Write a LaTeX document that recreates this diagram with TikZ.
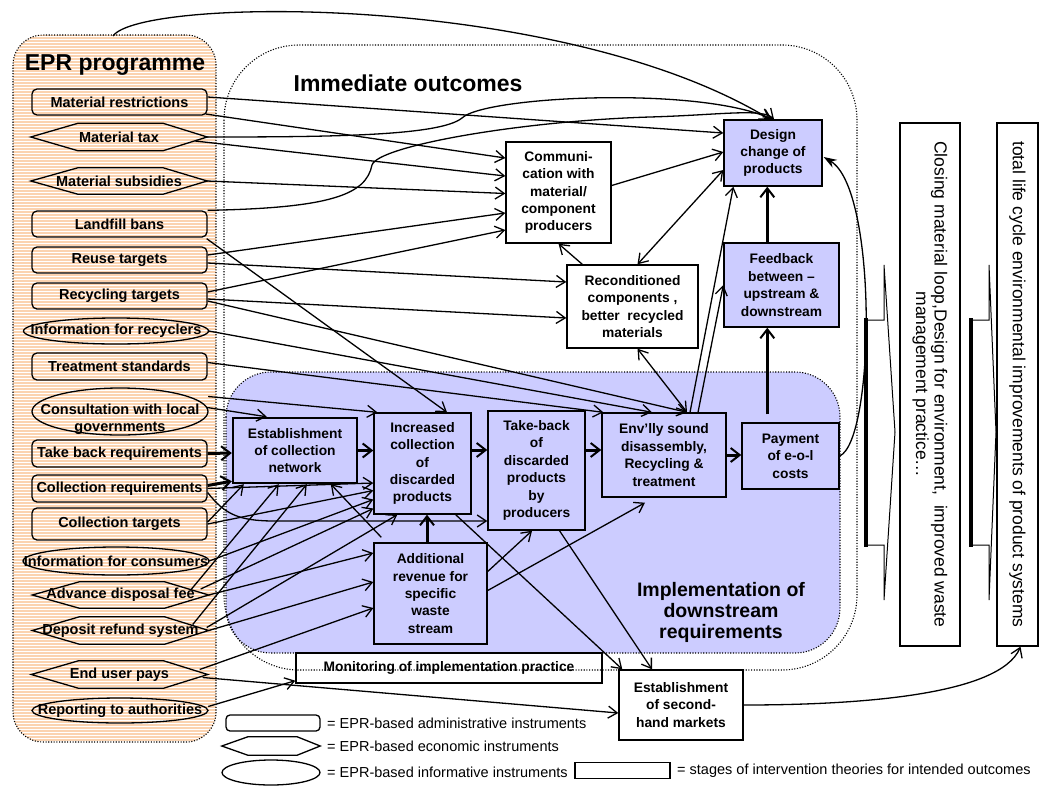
\documentclass[tikz,border=0pt]{standalone}
\usepackage{fontspec}
\setmainfont{Liberation Sans}
\usetikzlibrary{arrows.meta,calc}
\definecolor{blu}{RGB}{204,204,255}
\definecolor{peach}{RGB}{251,211,176}
\newcommand\myfi{\fontsize{14.5}{17}\selectfont\bfseries}
\newcommand\myfb{\fontsize{13.8}{17.4}\selectfont\bfseries}
\newcommand\myfl{\fontsize{14.5}{17}\selectfont}
\newcommand\hexp[3]{\draw[lw] (#1.west) -- ($(#1.north west)+(#2,0)$) -- ($(#1.north east)+(-#3,0)$) -- (#1.east) -- ($(#1.south east)+(-#3,0)$) -- ($(#1.south west)+(#2,0)$) -- cycle;}
\newcommand\ellp[3]{\draw[lw] (#1.center) ellipse [x radius=#2pt, y radius=#3pt];}
\begin{document}
\begin{tikzpicture}[x=1pt,y=-1pt,
  lw/.style={line width=1.3pt},
  dotl/.style={line width=1.1pt, dash pattern=on 1.1pt off 1.6pt},
  inst/.style={draw, line width=1.3pt, rounded corners=5pt, minimum width=175pt, minimum height=26pt, inner sep=0pt, font=\myfi},
  ghost/.style={inner sep=0pt, font=\myfi, align=center},
  box/.style={draw, line width=1.4pt, fill=white, inner sep=0pt, align=center, font=\myfb},
  bbox/.style={box, fill=blu},
  conn/.style={line width=1.3pt, -{Straight Barb[length=9pt,width=12pt]}},
  dconn/.style={line width=1.3pt, {Straight Barb[length=9pt,width=12pt]}-{Straight Barb[length=9pt,width=12pt]}},
  tconn/.style={line width=3pt, -{Straight Barb[length=9pt,width=14pt,line width=2pt]}},
  lgt/.style={anchor=west, inner sep=0pt, font=\myfl}
]
\useasboundingbox (0,0) rectangle (1040,787);

% EPR panel (peach with fine white stripes)
\begin{scope}
\clip[rounded corners=30pt] (13,35) rectangle (216,742);
\fill[peach] (13,35) rectangle (216,742);
\foreach \yy in {36,39,...,742} \draw[white, line width=1pt] (13,\yy) -- (216,\yy);
\end{scope}
\draw[dotl, rounded corners=30pt] (13,35) rectangle (216,742);

% implementation region
\draw[dotl, fill=blu, rounded corners=45pt] (226,372) rectangle (840,653);

% block arrows
\draw[line width=1pt, fill=white] (865,320) -- (884,320) -- (884,265) -- (895,432) -- (884,600) -- (884,545) -- (865,545) -- cycle;
\draw[line width=4pt] (866,318) -- (866,547);
\draw[line width=1pt, fill=white] (970,320) -- (989,320) -- (989,265) -- (996,432) -- (989,600) -- (989,545) -- (970,545) -- cycle;
\draw[line width=4pt] (971,318) -- (971,547);

% titles
\node[font=\fontsize{23}{27}\selectfont\bfseries] (eprtitle) at (115,65) {EPR programme};
\node[font=\fontsize{23}{27}\selectfont\bfseries] (iotitle) at (408,83) {Immediate outcomes};
\node[font=\fontsize{19.5}{21}\selectfont\bfseries, align=center] (impltitle) at (721,612) {Implementation of\\downstream\\requirements};

% instruments
\node[inst] (mr) at (119.5,102) {Material restrictions};
\node[ghost, minimum width=176pt, minimum height=27pt] (mt) at (119,137) {Material tax}; \hexp{mt}{47}{44}
\node[ghost, minimum width=176pt, minimum height=26pt] (ms) at (119,181) {Material subsidies}; \hexp{ms}{47}{44}
\node[inst] (lb) at (119.5,224) {Landfill bans};
\node[inst] (rt) at (119.5,260) {Reuse targets};
\node[inst] (rct) at (119.5,296) {Recycling targets};
\node[ghost, minimum width=185pt, minimum height=26pt] (ir) at (116,331) {Information for recyclers}; \ellp{ir}{92.5}{13}
\node[inst, minimum height=27pt] (ts) at (119.5,366.5) {Treatment standards};
\node[ghost, minimum width=176pt, minimum height=47pt] (cl) at (120,411.5) {}; \ellp{cl}{88}{23.5}
\node[ghost] (clt) at (120,419) {Consultation with local\\governments};
\node[inst, minimum height=27pt] (tbr) at (119.5,453.5) {Take back requirements};
\node[inst, minimum height=27pt] (cr) at (119.5,488.5) {Collection requirements};
\node[inst, minimum height=32pt] (ct) at (119.5,524) {Collection targets};
\node[ghost, minimum width=186pt, minimum height=28pt] (ic) at (116,561) {Information for consumers}; \ellp{ic}{93}{14}
\node[ghost, minimum width=176pt, minimum height=26pt] (adf) at (120.5,595) {Advance disposal fee}; \hexp{adf}{47}{44}
\node[ghost, minimum width=176pt, minimum height=27pt] (drs) at (120.5,630.5) {Deposit refund system}; \hexp{drs}{47}{44}
\node[ghost, minimum width=176pt, minimum height=27pt] (eup) at (119.5,674.5) {End user pays}; \hexp{eup}{47}{44}
\node[ghost, minimum width=176pt, minimum height=25pt] (rta) at (120,710.5) {Reporting to authorities}; \ellp{rta}{88}{12.5}

% stage boxes
\node[box, minimum width=105pt, minimum height=101pt] (comm) at (558.5,192.5) {Communi-\\cation with\\material/\\component\\producers};
\node[box, minimum width=131pt, minimum height=83pt] (recond) at (632.5,306.5) {Reconditioned\\components ,\\better\ \ recycled\\materials};
\node[bbox, minimum width=98pt, minimum height=66pt] (design) at (773,153) {Design\\change of\\products};
\node[bbox, minimum width=115pt, minimum height=84pt] (feedback) at (781.5,285) {Feedback\\between –\\upstream \&\\downstream};
\node[bbox, minimum width=124pt, minimum height=84pt] (env) at (664,455) {Env’lly sound\\disassembly,\\Recycling \&\\treatment};
\node[bbox, minimum width=97pt, minimum height=66pt] (pay) at (790.5,456) {Payment\\of e-o-l\\costs};
\node[bbox, line width=2.4pt, minimum width=124pt, minimum height=65pt] (estab) at (295,450.5) {Establishment\\of collection\\network};
\node[bbox, minimum width=97pt, minimum height=101pt] (incr) at (422.5,463.5) {Increased\\collection\\of\\discarded\\products};
\node[bbox, minimum width=97pt, minimum height=119pt] (take) at (536.5,470.5) {Take-back\\of\\discarded\\products\\by\\producers};
\node[bbox, minimum width=113pt, minimum height=101pt] (addrev) at (430.5,593.5) {Additional\\revenue for\\specific\\waste\\stream};
\node[box, minimum width=306pt, minimum height=30pt] (monitor) at (449,668) {Monitoring of implementation practice};
\node[box, minimum width=124pt, minimum height=70pt] (second) at (681,705) {Establishment\\of second-\\hand markets};

% right boxes
\node[draw, line width=1.3pt, minimum width=60pt, minimum height=523pt, inner sep=0pt] (closing) at (930,384.5) {};
\node[rotate=-90, font=\fontsize{17.5}{18.5}\selectfont, align=center] (closingtext) at (930,384.5) {Closing material loop,Design for environment,\ \ improved waste\\management practice…};
\node[draw, line width=1.3pt, minimum width=41pt, minimum height=523pt, inner sep=0pt] (total) at (1017.5,384.5) {};
\node[rotate=-90, font=\fontsize{17.5}{18.5}\selectfont] (totaltext) at (1017.5,384.5) {total life cycle environmental improvements of product systems};

% legend
\node[draw, lw, rounded corners=4pt, minimum width=94pt, minimum height=16pt, inner sep=0pt] (lg1) at (273,723) {};
\node[lgt] (lg1t) at (327,723) {= EPR-based administrative instruments};
\node[ghost, minimum width=98pt, minimum height=18pt] (lg2) at (271,746) {}; \hexp{lg2}{26}{23}
\node[lgt] (lg2t) at (327,746) {= EPR-based economic instruments};
\node[ghost, minimum width=98pt, minimum height=25pt] (lg3) at (271,772.5) {}; \ellp{lg3}{49}{12.5}
\node[lgt] (lg3t) at (327,772) {= EPR-based informative instruments};
\node[draw, lw, minimum width=95pt, minimum height=16pt, inner sep=0pt] (lg4) at (622.5,770.5) {};
\node[lgt] (lg4t) at (677,771) {= stages of intervention theories for intended outcomes};

% connectors: top
\coordinate (arcs) at (113,36);
\draw[conn] (arcs) .. controls (140,-3) and (560,-8) .. ($(design.north)+(-3,0)$);
\draw[conn] (mt.east) .. controls (330,137) and (440,136) .. (462,118) .. controls (485,96) and (700,86) .. ($(design.north)+(-1,0)$);
\draw[conn] (lb.north east) .. controls (330,208) and (366,195) .. (372,165) .. controls (378,146) and (520,121) .. (650,117) .. controls (720,115) and (762,108) .. ($(design.north)+(1,0)$);
\draw[conn] ($(mr.east)+(0,-5)$) -- ($(design.west)+(0,-20)$);
\draw[conn] ($(mr.east)+(-2,12)$) -- ($(comm.west)+(0,-34.5)$);
\draw[conn] ($(mt.east)+(-12,4)$) -- ($(comm.west)+(0,-16.5)$);
\draw[conn] (ms.east) -- ($(comm.west)+(0,1)$);
\draw[conn] ($(rt.east)+(0,-5)$) -- ($(comm.west)+(0,20.5)$);
\draw[conn] ($(rt.east)+(0,3)$) -- ($(recond.west)+(0,-24.5)$);
\draw[conn] ($(rct.east)+(0,-4)$) -- ($(comm.west)+(0,37.5)$);
\draw[conn] ($(rct.east)+(0,3)$) -- ($(recond.west)+(0,11.5)$);
\draw[conn] ($(rct.east)+(0,5)$) -- ($(env.north)+(23,0)$);
\draw[conn] (ir.east) -- ($(env.north)+(-12,0)$);
\draw[conn] ($(ts.east)+(0,-4)$) -- ($(env.north west)+(2,0)$);
\draw[conn] ($(lb.south east)+(-1,1)$) -- ($(incr.north)+(24.5,0)$);
\draw[conn] ($(cl.east)+(0,-15)$) -- ($(incr.north west)+(4,0)$);
\draw[conn] ($(cl.east)+(-1,-4)$) -- ($(estab.north west)+(35,0)$);

% connectors: lower instruments
\draw[tconn] (tbr.east) -- ($(estab.west)+(0,2.5)$);
\draw[tconn] ($(cr.east)+(0,-3)$) -- ($(estab.south west)+(0,-3)$);
\draw[conn] (cr.east) -- ($(incr.west)+(0,19.5)$);
\draw[conn] ($(cr.east)+(0,4)$) .. controls (225,515) and (240,521) .. (275,521) -- ($(take.west)+(0,50.5)$);
\draw[conn] ($(ct.east)+(0,-2)$) -- ($(estab.south west)+(12,0)$);
\draw[conn] (ct.east) -- ($(incr.west)+(0,27)$);
\draw[conn] (ic.east) -- ($(incr.west)+(0,36)$);
\draw[conn] ($(adf.east)+(-18,-5)$) -- ($(estab.south west)+(47,0)$);
\draw[conn] ($(adf.east)+(-8,-6)$) -- ($(incr.west)+(0,45)$);
\draw[conn] (adf.east) -- ($(addrev.west)+(0,-40.5)$);
\draw[conn] ($(drs.east)+(-16,-6)$) -- ($(estab.south west)+(75,0)$);
\draw[conn] ($(drs.east)+(-2,-3)$) -- ($(incr.south west)+(24,0)$);
\draw[conn] (drs.east) -- ($(addrev.west)+(0,-11.5)$);
\draw[conn] ($(eup.east)+(-8,-5)$) -- ($(addrev.west)+(0,14.5)$);
\draw[conn] ($(eup.east)+(-5,3)$) -- ($(second.west)+(0,8)$);
\draw[conn] ($(rta.east)+(0,-4)$) -- ($(monitor.south west)+(0,-3)$);

% connectors: central
\draw[tconn] (estab.east) -- (estab.east -| incr.west);
\draw[tconn] ($(incr.east)+(0,-13.5)$) -- ($(take.west)+(0,-20.5)$);
\draw[tconn] ($(take.east)+(0,-20.5)$) -- ($(env.west)+(0,-5)$);
\draw[tconn] (env.east) -- ($(pay.west)+(0,-1)$);
\draw[tconn] ($(addrev.north)+(-3.5,0)$) -- ($(incr.south)+(4.5,0)$);
\draw[conn] ($(addrev.east)+(0,-22)$) -- ($(take.south)+(-4.5,0)$);
\draw[conn] ($(addrev.east)+(0,-3)$) -- ($(env.south)+(-19,5)$);
\draw[conn] ($(addrev.north west)+(8,-5)$) -- ($(estab.south west)+(99,0)$);
\draw[conn] ($(incr.south east)+(-16,0)$) -- ($(second.north west)+(4,0)$);
\draw[conn] ($(take.south)+(23,0)$) -- ($(second.north)+(-29,0)$);
\draw[conn] ($(recond.north west)+(16,0)$) -- (comm.south);
\draw[dconn] ($(recond.north)+(5,0)$) -- ($(design.west)+(0,17)$);
\draw[dconn] ($(recond.south)+(5,0)$) -- ($(env.north)+(23,0)$);
\draw[conn] ($(comm.east)+(0,-7)$) -- ($(design.west)+(0,-1)$);
\draw[conn] ($(env.north)+(26,0)$) -- ($(design.south west)+(10,0)$);
\draw[conn] ($(env.north)+(34,0)$) -- (feedback.west);
\draw[tconn] ($(pay.north west)+(26,-8)$) -- ($(feedback.south west)+(44,0)$);
\draw[tconn] ($(feedback.north west)+(44,0)$) -- ($(design.south west)+(44,0)$);
\draw[line width=1.3pt, -{Stealth[length=13pt,width=9pt]}] (pay.east) .. controls (875,440) and (878,190) .. ($(design.east)+(1,4)$);
\draw[conn] (second.east) .. controls (860,705) and (1000,695) .. ($(total.south)+(3,0)$);

% immediate outcomes outline
\draw[dotl, rounded corners=75pt] (224,45) rectangle (857,670);
\end{tikzpicture}
\end{document}
